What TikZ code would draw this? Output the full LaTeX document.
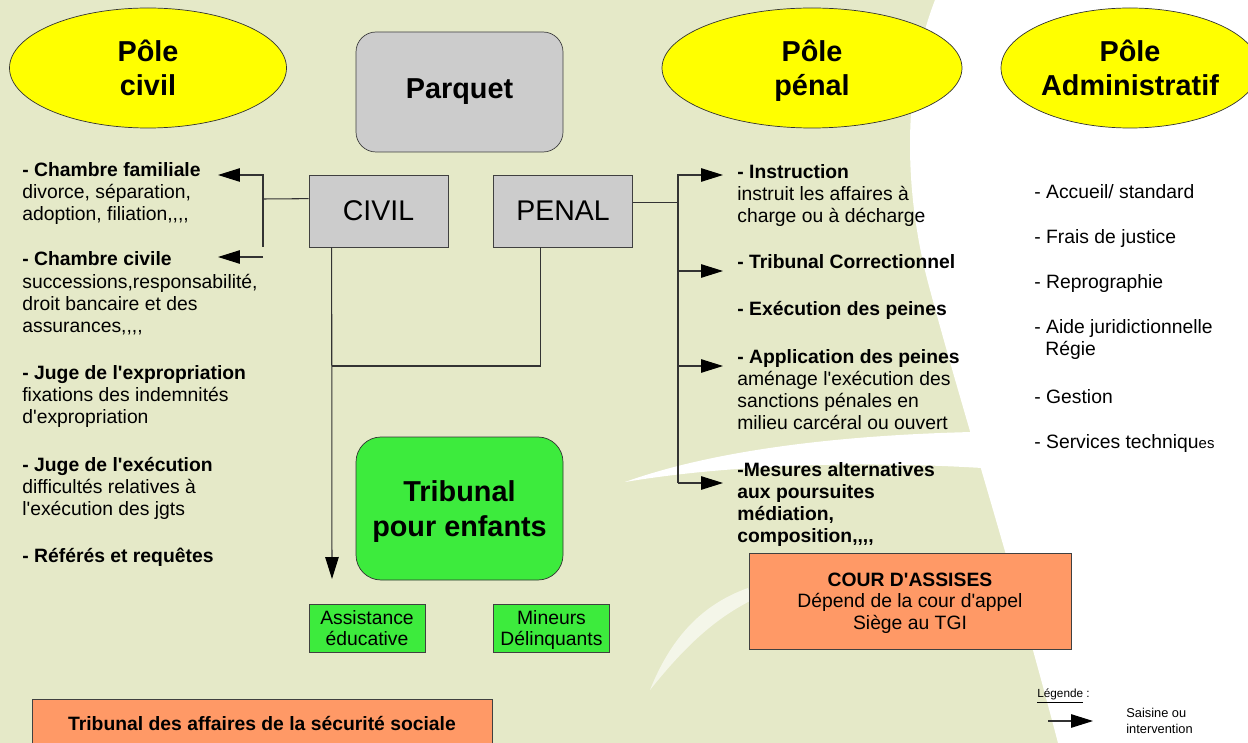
\documentclass[tikz,border=0pt]{standalone}
\usepackage{fontspec}
\newfontfamily\arialf{Liberation Sans}
\usetikzlibrary{shapes.geometric}
\usetikzlibrary{arrows.meta}
\usetikzlibrary{calc}
\definecolor{fondvert}{HTML}{E5E9C8}
\definecolor{jaune}{HTML}{FFFF00}
\definecolor{gris}{HTML}{CCCCCC}
\definecolor{vertvif}{HTML}{3DEB3D}
\definecolor{saumon}{HTML}{FF9966}
\newlength\px
\setlength\px{0.02cm}
\newcommand\corps{\arialf\fontsize{11pt}{12.5pt}\selectfont}
\newcommand\titre{\arialf\bfseries\fontsize{16.4pt}{19.6pt}\selectfont}
\tikzstyle{pole}=[ellipse, draw=black!80, fill=jaune, minimum height=120\px, inner sep=0pt, align=center, font=\titre]
\tikzstyle{parquetbox}=[rectangle, rounded corners=20\px, draw=black!75, fill=gris, minimum width=207\px, minimum height=120\px, font=\titre]
\tikzstyle{grisbox}=[rectangle, draw=black!75, fill=gris, minimum width=139\px, minimum height=72\px, font=\arialf\fontsize{16.2pt}{19pt}\selectfont]
\tikzstyle{enfantbox}=[rectangle, rounded corners=25\px, draw=black!80, fill=vertvif, minimum width=207\px, minimum height=143\px, align=center, font=\titre]
\tikzstyle{vertbox}=[rectangle, draw=black!75, fill=vertvif, minimum width=116\px, minimum height=48\px, inner sep=0pt, align=center, font=\arialf\fontsize{11pt}{11.9pt}\selectfont]
\tikzstyle{orangebox}=[rectangle, draw=black!75, fill=saumon, inner sep=0pt, align=center, font=\arialf\fontsize{11pt}{12.2pt}\selectfont]
\tikzstyle{item}=[anchor=base west, inner sep=0pt, font=\corps]
\tikzstyle{link}=[draw=black!80, line width=0.6pt]
\tikzstyle{saisine}=[link, -{Triangle[length=0.44cm,width=0.27cm,black]}]

\begin{document}
\begin{tikzpicture}[x=0.02cm, y=-0.02cm, font=\corps]

  \useasboundingbox (0,0) rectangle (1248,743);
  \clip (0,0) rectangle (1248,743);

  % fond
  \fill[fondvert] (0,0) rectangle (1248,743);
  \fill[white] (935,0) .. controls (900,90) and (905,200) .. (930,290) .. controls (965,420) and (1010,560) .. (1058,743) -- (1248,743) -- (1248,0) -- cycle;
  \fill[white] (625,482) .. controls (720,448) and (850,435) .. (972,432) -- (982,468) .. controls (850,460) and (720,466) .. (625,482) -- cycle;
  \fill[white, opacity=0.6] (650,690) .. controls (670,640) and (700,605) .. (748,588) -- (752,600) .. controls (712,620) and (682,650) .. (650,690) -- cycle;

  % poles et services
  \node[pole, minimum width=277\px] (pcivil) at (148,68) {Pôle\\civil};
  \node[pole, minimum width=300\px] (ppenal) at (812,68) {Pôle\\\smash{pénal}};
  \node[pole, minimum width=258\px] (padmin) at (1130,68) {Pôle\\Administratif};

  \node[parquetbox] (parquet) at (459.5,92) {Parquet};
  \node[grisbox] (civil) at (378.5,211) {CIVIL};
  \node[grisbox] (penal) at (563,211) {PENAL};

  \node[enfantbox] (tpe) at (459.5,508.5) {Tribunal\\\smash{pour enfants}};
  \node[vertbox] (assist) at (367,628) {Assistance\\éducative};
  \node[vertbox] (mineurs) at (551.5,628) {Mineurs\\\smash{Délinquants}};

  \node[orangebox, minimum width=322\px, minimum height=96\px] (assises) at (910,601) {\textbf{COUR D'ASSISES}\\Dépend de la cour d'appel\\\smash{Siège au TGI}};
  \node[orangebox, minimum width=460\px, minimum height=50\px, font=\corps\bfseries] (tass) at (262,724) {Tribunal des affaires de la sécurité sociale};

  % pole civil
  \foreach \y/\name/\txt in {177/fam1/{\bfseries - Chambre familiale}, 199/fam2/{divorce, séparation,}, 221/fam3/{adoption, filiation,,,,},
      266/civ1/{\bfseries - Chambre civile}, 289/civ2/{successions,responsabilité,}, 311/civ3/{droit bancaire et des}, 333/civ4/{assurances,,,,},
      379/exp1/{\bfseries - Juge de l'expropriation}, 401/exp2/{fixations des indemnités}, 423/exp3/{d'expropriation},
      471/exe1/{\bfseries - Juge de l'exécution}, 493/exe2/{difficultés relatives à}, 515/exe3/{l'exécution des jgts},
      562/ref1/{\bfseries - Référés et requêtes}}
    \node[item] (\name) at (22,\y) {\txt};

  % pole penal
  \foreach \y/\name/\txt in {179/ins1/{\bfseries - Instruction}, 201/ins2/{instruit les affaires à}, 223/ins3/{charge ou à décharge},
      269/cor1/{\bfseries - Tribunal Correctionnel}, 316/pei1/{\bfseries - Exécution des peines},
      363/app1/{\bfseries - Application des peines}, 385/app2/{aménage l'exécution des}, 407/app3/{sanctions pénales en}, 429/app4/{milieu carcéral ou ouvert},
      476/alt1/{\bfseries -Mesures alternatives}, 498/alt2/{\bfseries aux poursuites}, 520/alt3/{\bfseries médiation,}, 542/alt4/{\bfseries composition,,,,}}
    \node[item] (\name) at (737,\y) {\txt};

  % pole administratif
  \foreach \y/\name/\txt in {199/adm1/{- Accueil/ standard}, 244/adm2/{- Frais de justice}, 289/adm3/{- Reprographie},
      334/adm4/{- Aide juridictionnelle}, 403/adm6/{- Gestion}, 448/adm7/{- Services techniqu{\fontsize{8.5pt}{10pt}\selectfont es}}}
    \node[item] (\name) at (1034,\y) {\txt};
  \node[item] (adm5) at (1045,356) {Régie};

  % liens civil
  \coordinate (cjoin) at (263,199);
  \coordinate (ctop) at (263,175);
  \coordinate (cbot) at (263,247);
  \coordinate (famtip) at (218,175);
  \coordinate (civtail) at (263,257);
  \coordinate (civtip) at (218,257);
  \draw[link] ($(civil.north west)+(0,24)$) -- (cjoin);
  \draw[saisine] (cbot) -- (ctop) -- (famtip);
  \draw[saisine] (civtail) -- (civtip);

  \coordinate (cfoot) at ($(civil.south west)+(23,0)$);
  \coordinate (pfoot) at ($(penal.south west)+(47,0)$);
  \coordinate (pjoin) at (332,366);
  \coordinate (asstip) at (332,579);
  \draw[saisine] (cfoot) -- (asstip);
  \draw[link] (pfoot) |- (pjoin);

  % liens penal
  \coordinate (pout) at ($(penal.north east)+(0,28)$);
  \coordinate (ptop) at (678,175);
  \coordinate (pbot) at (678,483);
  \draw[link] (pout) -- (pout -| ptop);
  \draw[saisine] (pbot) -- (ptop) -- (723,175);
  \foreach \y/\name in {271/ttc, 366/tap, 483/tma} {
    \coordinate (\name) at (723,\y);
    \draw[saisine] (ptop |- \name) -- (\name);
  }

  % legende
  \node[item, font=\arialf\fontsize{6.7pt}{8pt}\selectfont] (leg) at (1037,697) {\underline{Légende} :};
  \node[item, font=\arialf\fontsize{7.3pt}{9pt}\selectfont] (sai1) at (1126,717) {Saisine ou};
  \node[item, font=\arialf\fontsize{7.3pt}{9pt}\selectfont] (sai2) at (1126,733) {intervention};
  \coordinate (lgtail) at (1048,721);
  \coordinate (lgtip) at (1093,721);
  \draw[saisine] (lgtail) -- (lgtip);

\end{tikzpicture}
\end{document}
